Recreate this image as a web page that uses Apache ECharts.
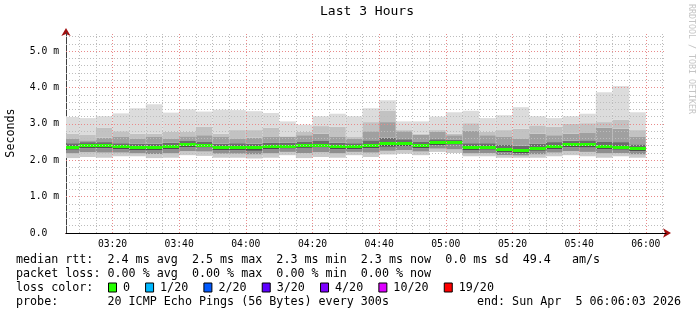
<!DOCTYPE html>
<html><head><meta charset="utf-8">
<script src="https://cdn.jsdelivr.net/npm/echarts@6/dist/echarts.min.js"></script>
<style>html,body{margin:0;padding:0;background:#fff}#c{width:697px;height:315px}</style>
</head><body><div id="c"></div>
<script>
// ---------- data ----------
const axisStart = '03:06:03';
const axisEnd = '06:06:03';
const stepMinutes = 5; // 300s probe step
const barEnds = ['03:10','03:15','03:20','03:25','03:30','03:35','03:40','03:45','03:50','03:55',
  '04:00','04:05','04:10','04:15','04:20','04:25','04:30','04:35','04:40','04:45',
  '04:50','04:55','05:00','05:05','05:10','05:15','05:20','05:25','05:30','05:35',
  '05:40','05:45','05:50','05:55','06:00'];
// smoke levels in ms (from top of lightest smoke down to bottom)
const maxRtt = [3.19,3.16,3.21,3.29,3.43,3.54,3.31,3.40,3.34,3.39,3.38,3.35,3.30,3.07,2.98,3.21,3.28,3.21,3.43,3.65,3.07,3.07,3.20,3.32,3.36,3.16,3.24,3.46,3.21,3.16,3.21,3.28,3.87,4.04,3.32];
const upper2 = [2.73,2.71,2.89,2.80,2.73,2.73,2.78,2.78,2.92,2.73,2.83,2.83,2.90,2.66,2.78,2.94,2.92,2.64,3.05,3.37,2.83,2.73,2.83,2.73,3.02,2.78,2.83,2.87,2.96,2.92,3.01,3.02,3.05,3.11,2.83];
const upper3 = [2.60,2.55,2.62,2.64,2.60,2.64,2.60,2.66,2.69,2.64,2.60,2.62,2.64,2.64,2.69,2.73,2.64,2.60,2.80,3.05,2.80,2.70,2.78,2.69,2.82,2.69,2.64,2.60,2.73,2.69,2.73,2.75,2.90,2.87,2.64];
const upper4 = [2.47,2.50,2.50,2.47,2.45,2.46,2.48,2.53,2.52,2.46,2.47,2.46,2.49,2.48,2.52,2.53,2.48,2.47,2.55,2.62,2.58,2.52,2.58,2.56,2.47,2.47,2.42,2.40,2.45,2.50,2.54,2.55,2.52,2.50,2.44];
const medianRtt = [2.36,2.41,2.41,2.37,2.34,2.34,2.38,2.44,2.42,2.35,2.36,2.34,2.39,2.39,2.42,2.42,2.38,2.37,2.41,2.45,2.45,2.40,2.48,2.49,2.34,2.36,2.29,2.27,2.33,2.38,2.43,2.43,2.39,2.36,2.32];
const lower4 = [2.29,2.33,2.33,2.30,2.27,2.27,2.31,2.36,2.35,2.28,2.28,2.26,2.31,2.32,2.34,2.35,2.30,2.30,2.33,2.37,2.38,2.33,2.41,2.43,2.27,2.29,2.22,2.20,2.26,2.31,2.36,2.35,2.31,2.29,2.25];
const lower3 = [2.19,2.22,2.21,2.21,2.19,2.17,2.19,2.25,2.24,2.18,2.18,2.16,2.19,2.23,2.20,2.22,2.19,2.23,2.21,2.26,2.28,2.24,2.32,2.30,2.19,2.20,2.14,2.13,2.16,2.21,2.25,2.23,2.19,2.20,2.16];
const minRtt = [2.06,2.09,2.07,2.11,2.11,2.06,2.07,2.14,2.12,2.07,2.07,2.05,2.07,2.14,2.06,2.09,2.07,2.14,2.09,2.16,2.18,2.14,2.23,2.20,2.11,2.11,2.07,2.07,2.07,2.11,2.14,2.11,2.07,2.11,2.07];
const xTickLabels = ['03:20','03:40','04:00','04:20','04:40','05:00','05:20','05:40','06:00'];
const yMax = 5.5;
const title = 'Last 3 Hours';
const yName = 'Seconds';
const legendLines = [
  'median rtt:  2.4 ms avg  2.5 ms max  2.3 ms min  2.3 ms now  0.0 ms sd  49.4   am/s',
  'packet loss: 0.00 % avg  0.00 % max  0.00 % min  0.00 % now',
  'loss color:',
  'probe:       20 ICMP Echo Pings (56 Bytes) every 300s'
];
const endText = 'end: Sun Apr  5 06:06:03 2026';
const lossLabels = ['0','1/20','2/20','3/20','4/20','10/20','19/20'];
const lossColors = ['#26ff00','#00b8ff','#0059ff','#5e00ff','#7e00ff','#dd00ff','#ff0000'];
const watermark = 'RRDTOOL / TOBI OETIKER';

// ---------- helpers ----------
function tm(s){const p=s.split(':').map(Number);return p[0]*60+p[1]+(p[2]||0)/60;}
function fmt(v){const h=Math.floor(v/60+1e-9),m=Math.round(v-h*60);return String(h).padStart(2,'0')+':'+String(m).padStart(2,'0');}
const xMin=tm(axisStart), xMax=tm(axisEnd);
const FONT='DejaVu Sans Mono';

const smokeData = barEnds.map((e,i)=>{const t1=tm(e);return [t1-stepMinutes,t1,minRtt[i],lower3[i],lower4[i],medianRtt[i],upper4[i],upper3[i],upper2[i],maxRtt[i]];});
const medianData = barEnds.map((e,i)=>{const t1=tm(e);return [t1-stepMinutes,t1,medianRtt[i]];});
const bandColors=['#cacaca','#8e8e8e','#4e4e4e','#6c6c6c','#a0a0a0','#c2c2c2','#dcdcdc'];

// grid lines
const minorC='#bdbdbd', majorC='#e98a8a';
const gridLines=[];
const majorX = xTickLabels.map(tm);
for(let t=Math.ceil(xMin/stepMinutes)*stepMinutes;t<=xMax;t+=stepMinutes){
  const isMajor = majorX.some(v=>Math.abs(v-t)<1e-6);
  gridLines.push({xAxis:t,lineStyle:{color:isMajor?majorC:minorC,type:[1,2],width:1}});
}
for(let k=1;k<=27;k++){
  const v=k/5; const isMajor=(k%5===0);
  gridLines.push({yAxis:v,lineStyle:{color:isMajor?majorC:minorC,type:[1,2],width:1}});
}

const chart=echarts.init(document.getElementById('c'),null,{renderer:'canvas'});
const gfx=[];
gfx.push({type:'text',x:367,y:12,style:{text:title,font:'13px "'+FONT+'"',fill:'#000',align:'center',verticalAlign:'middle'}});
gfx.push({type:'text',x:10.5,y:133,rotation:Math.PI/2,style:{text:yName,font:'11.7px "'+FONT+'"',fill:'#000',align:'center',verticalAlign:'middle'}});
gfx.push({type:'text',x:691,y:4,rotation:-Math.PI/2,style:{text:watermark,font:'8.3px "'+FONT+'"',fill:'#c4c4c4',align:'left',verticalAlign:'middle'}});
const rowY=[259.5,273.5,287.5,301.5];
legendLines.forEach((t,i)=>gfx.push({type:'text',x:16,y:rowY[i],style:{text:t,font:'11.7px "'+FONT+'"',fill:'#000',align:'left',verticalAlign:'middle'}}));
gfx.push({type:'text',x:681,y:rowY[3],style:{text:endText,font:'11.7px "'+FONT+'"',fill:'#000',align:'right',verticalAlign:'middle'}});
const cw=7.08; let lx=108;
lossLabels.forEach((l,i)=>{
  gfx.push({type:'rect',shape:{x:lx+0.5,y:rowY[2]-4.5,width:8,height:9},style:{fill:lossColors[i],stroke:'#000',lineWidth:1}});
  gfx.push({type:'text',x:lx+15,y:rowY[2],style:{text:l,font:'11.7px "'+FONT+'"',fill:'#000',align:'left',verticalAlign:'middle'}});
  lx = lx+15+l.length*cw+15;
});

function clipTo(cs,r){return echarts.graphic.clipRectByRect(r,{x:cs.x,y:cs.y,width:cs.width,height:cs.height});}
const axisFont={fontFamily:FONT,fontSize:9.7,color:'#000'};
chart.setOption({
  animation:false,
  backgroundColor:'#ffffff',
  grid:{left:66,right:31,top:33,bottom:82},
  xAxis:[
    {type:'value',min:xMin,max:xMax,z:0,
     axisLine:{show:true,symbol:['none','arrow'],symbolSize:[7,8],symbolOffset:[0,5],lineStyle:{color:'#a01010',width:1}},
     axisTick:{show:false},axisLabel:{show:false},splitLine:{show:false}},
    {type:'value',min:xMin,max:xMax,position:'bottom',z:1,
     axisLine:{show:true,lineStyle:{color:'#000',width:1}},
     axisTick:{show:false},splitLine:{show:false},
     axisLabel:Object.assign({customValues:majorX,formatter:v=>fmt(v),margin:6},axisFont)}
  ],
  yAxis:[
    {type:'value',min:0,max:yMax,interval:1,z:0,
     axisLine:{show:true,symbol:['none','arrow'],symbolSize:[7,8],symbolOffset:[0,5],lineStyle:{color:'#a01010',width:1}},
     axisTick:{show:false},axisLabel:{show:false},splitLine:{show:false}},
    {type:'value',min:0,max:yMax,interval:1,z:1,position:'left',
     axisLine:{show:true,lineStyle:{color:'#404040',width:1}},
     axisTick:{show:false},splitLine:{show:false},
     axisLabel:Object.assign({showMaxLabel:false,margin:7,formatter:v=>(Math.abs(v-Math.round(v))>1e-6?'':(v===0?'0.0  ':v.toFixed(1)+' m'))},axisFont)}
  ],
  series:[
    {type:'line',xAxisIndex:1,yAxisIndex:1,z:1,silent:true,data:[],
     markLine:{silent:true,symbol:['none','none'],label:{show:false},animation:false,data:gridLines}},
    {type:'custom',xAxisIndex:1,yAxisIndex:1,z:2,silent:true,
     renderItem:function(params,api){
       const t0=api.value(0),t1=api.value(1);
       const lv=[2,3,4,5,6,7,8,9].map(k=>api.value(k));
       const cs=params.coordSys;
       const children=[];
       for(let k=0;k<7;k++){
         const pa=api.coord([t0,lv[k+1]]),pb=api.coord([t1,lv[k]]);
         const r=clipTo(cs,{x:pa[0],y:pa[1],width:pb[0]-pa[0],height:pb[1]-pa[1]});
         if(r) children.push({type:'rect',shape:r,style:{fill:bandColors[k]}});
       }
       return {type:'group',children};
     },
     encode:{x:[0,1],y:[2,9]},
     data:smokeData},
    {type:'custom',xAxisIndex:1,yAxisIndex:1,z:4,silent:true,
     renderItem:function(params,api){
       const pa=api.coord([api.value(0),api.value(2)]),pb=api.coord([api.value(1),api.value(2)]);
       const y=Math.round(pa[1]-1.5);
       const r=clipTo(params.coordSys,{x:pa[0],y:y,width:pb[0]-pa[0],height:3});
       return r?{type:'rect',shape:r,style:{fill:lossColors[0]}}:null;
     },
     encode:{x:[0,1],y:2},
     data:medianData}
  ],
  graphic:gfx
});
</script></body></html>
